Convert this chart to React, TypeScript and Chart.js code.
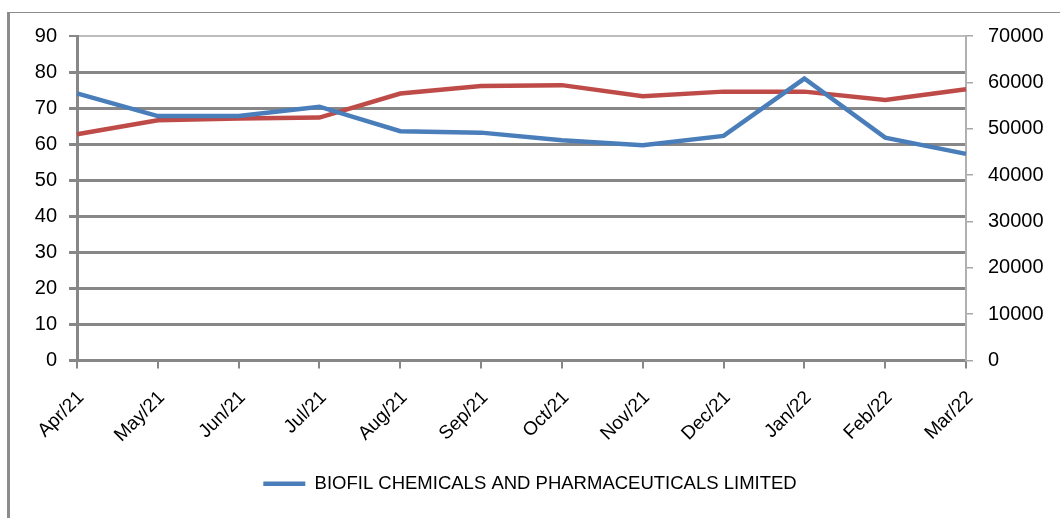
import React, { useEffect, useRef } from "react";
import { Chart, registerables } from "chart.js";

Chart.register(...registerables);

const categories = ["Apr/21", "May/21", "Jun/21", "Jul/21", "Aug/21", "Sep/21", "Oct/21", "Nov/21", "Dec/21", "Jan/22", "Feb/22", "Mar/22"];
const biofilPrices = [74.1, 67.8, 67.8, 70.4, 63.6, 63.2, 61.1, 59.7, 62.3, 78.2, 61.8, 57.3];
const indexValues = [48800, 51800, 52200, 52400, 57600, 59200, 59400, 57000, 58000, 58000, 56200, 58500];
const leftTicks = [0, 10, 20, 30, 40, 50, 60, 70, 80, 90];
const rightTicks = [0, 10000, 20000, 30000, 40000, 50000, 60000, 70000];

const BLUE = "#4a7ebb";
const RED = "#be4b48";
const GRID = "#878787";

export default function App() {
  const ref = useRef<HTMLCanvasElement | null>(null);

  useEffect(() => {
    if (!ref.current) return;
    const chart = new Chart(ref.current, {
      type: "line",
      data: {
        labels: categories,
        datasets: [
          {
            label: "BIOFIL CHEMICALS AND PHARMACEUTICALS LIMITED",
            data: biofilPrices,
            borderColor: BLUE,
            backgroundColor: BLUE,
            borderWidth: 4.5,
            pointRadius: 0,
            tension: 0,
            yAxisID: "y",
          },
          {
            label: "Index",
            data: indexValues,
            borderColor: RED,
            backgroundColor: RED,
            borderWidth: 4.5,
            pointRadius: 0,
            tension: 0,
            yAxisID: "y1",
          },
        ],
      },
      options: {
        animation: false,
        responsive: false,
        maintainAspectRatio: false,
        layout: { padding: { left: 0, right: 0, top: 36, bottom: 15 } },
        plugins: {
          tooltip: { enabled: false },
          legend: {
            position: "bottom",
            labels: {
              filter: (item) => item.datasetIndex === 0,
              usePointStyle: true,
              pointStyle: "line",
              pointStyleWidth: 42,
              color: "#000",
              padding: 10,
              font: { family: "'Liberation Sans'", size: 18.5 },
            },
          },
        },
        scales: {
          x: {
            offset: false,
            grid: {
              drawOnChartArea: false,
              drawTicks: true,
              tickLength: 8,
              color: GRID,
              lineWidth: 2,
            },
            border: { display: true, color: GRID, width: 3 },
            ticks: {
              color: "#000",
              minRotation: 45,
              maxRotation: 45,
              autoSkip: false,
              padding: 18,
              labelOffset: 4,
              font: { family: "'Liberation Sans'", size: 19 },
            },
            afterFit: (s: any) => {
              s.height = 104;
            },
          },
          y: {
            position: "left",
            min: 0,
            max: 90,
            afterBuildTicks: (s: any) => {
              s.ticks = leftTicks.map((v) => ({ value: v }));
            },
            grid: {
              color: (c: any) => (c.tick && c.tick.value === 90 ? "#bdbdbd" : GRID),
              lineWidth: (c: any) => (c.tick && c.tick.value === 90 ? 2 : 3),
              tickLength: 8,
              tickColor: GRID,
            },
            border: { display: true, color: GRID, width: 3 },
            ticks: {
              color: "#000",
              padding: 12,
              font: { family: "'Liberation Sans'", size: 20 },
            },
            afterFit: (s: any) => {
              s.width = 77;
            },
          },
          y1: {
            position: "right",
            min: 0,
            max: 70000,
            afterBuildTicks: (s: any) => {
              s.ticks = rightTicks.map((v) => ({ value: v }));
            },
            grid: {
              drawOnChartArea: false,
              tickLength: 7,
              color: "#a8a8a8",
              lineWidth: 1.5,
            },
            border: { display: true, color: "#b0b0b0", width: 2 },
            ticks: {
              color: "#000",
              padding: 15,
              font: { family: "'Liberation Sans'", size: 20 },
              callback: (v: any) => String(v),
            },
            afterFit: (s: any) => {
              s.width = 94;
            },
          },
        },
      },
    });
    return () => chart.destroy();
  }, []);

  return (
    <div style={{ position: "fixed", left: 0, top: 0, width: 1060, height: 518, background: "#fff", overflow: "hidden" }}>
      <div
        style={{
          position: "absolute",
          left: 7,
          top: 12,
          width: 1200,
          height: 700,
          borderLeft: "3px solid #8c8c8c",
          borderTop: "1px solid #8c8c8c",
        }}
      />
      <canvas ref={ref} width={1060} height={518} style={{ position: "absolute", left: 0, top: 0, width: 1060, height: 518 }} />
    </div>
  );
}
